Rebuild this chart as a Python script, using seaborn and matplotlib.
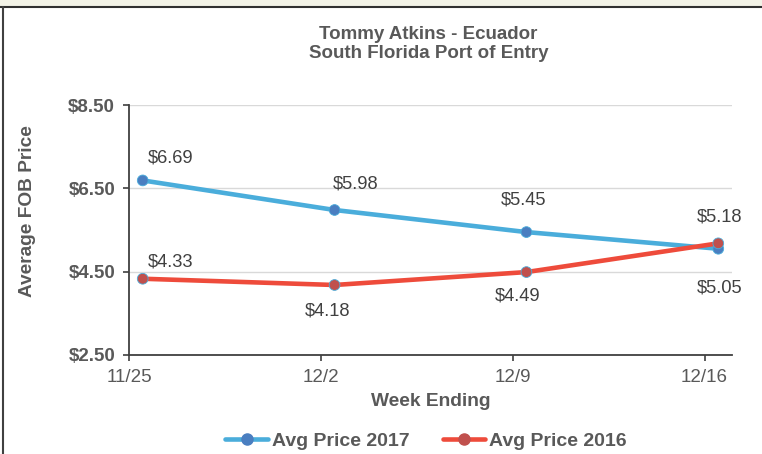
import pandas as pd
import seaborn as sns
import matplotlib.pyplot as plt
from matplotlib.lines import Line2D
from matplotlib.patches import Rectangle

# chart data
weeks = ["2017-11-25", "2017-12-02", "2017-12-09", "2017-12-16"]
week_labels = ["11/25", "12/2", "12/9", "12/16"]
price_2017 = [6.69, 5.98, 5.45, 5.05]
price_2016 = [4.33, 4.18, 4.49, 5.18]
series_names = ["Avg Price 2017", "Avg Price 2016"]
y_ticks = [2.5, 4.5, 6.5, 8.5]

line_colors = ["#4AADDB", "#EE4B3B"]
marker_colors = ["#4A7EC0", "#C0504D"]
text_grey = "#595959"

# label offsets in points (dx, dy) for each value
offsets_2017 = [(20, 16), (15, 19), (-2, 23), (1, -28)]
offsets_2016 = [(20, 12), (-5, -19), (-6, -17), (1, 19)]

dates = pd.to_datetime(weeks)
# Excel date axis puts points in the middle of the day
x_pos = dates + pd.Timedelta(hours=12)

df = pd.DataFrame({
    "date": list(x_pos) * 2,
    "price": price_2017 + price_2016,
    "series": [series_names[0]] * 4 + [series_names[1]] * 4,
})

sns.set_style("white")
plt.rcParams["font.family"] = ["Liberation Sans", "DejaVu Sans"]

fig = plt.figure(figsize=(7.62, 4.54), dpi=100)
ax = fig.add_axes([0.1693, 0.2181, 0.7913, 0.5506])

sns.lineplot(data=df, x="date", y="price", hue="series",
             palette=dict(zip(series_names, line_colors)),
             linewidth=3.3, legend=False, ax=ax, zorder=3)
sns.scatterplot(data=df, x="date", y="price", hue="series",
                palette=dict(zip(series_names, marker_colors)),
                s=60, edgecolor=line_colors[0], linewidth=0.6,
                legend=False, ax=ax, zorder=4)

# data labels
for vals, offs in [(price_2017, offsets_2017), (price_2016, offsets_2016)]:
    for x, v, (dx, dy) in zip(x_pos, vals, offs):
        ax.annotate(f"${v:.2f}", (x, v), xytext=(dx, dy),
                    textcoords="offset points", ha="center", va="center",
                    fontsize=13.2, color="#404040")

ax.set_ylim(2.5, 8.5)
ax.set_yticks(y_ticks)
ax.set_yticklabels([f"${t:.2f}" for t in y_ticks], fontweight="bold",
                   fontsize=13.5, color=text_grey)
ax.set_xlim(dates[0], dates[-1] + pd.Timedelta(days=1))
ax.set_xticks(dates)
ax.set_xticklabels(week_labels, fontsize=13.5, color=text_grey)

ax.grid(axis="y", color="#D9D9D9", linewidth=1)
ax.set_axisbelow(True)
for side in ["top", "right"]:
    ax.spines[side].set_visible(False)
for side in ["left", "bottom"]:
    ax.spines[side].set_color("#404040")
    ax.spines[side].set_linewidth(1.3)
ax.tick_params(axis="both", direction="out", length=4, width=1.2,
               color="#404040", left=True, bottom=True)
ax.tick_params(axis="y", pad=6)
ax.tick_params(axis="x", pad=6)

ax.set_xlabel("Week Ending", fontsize=13.8, fontweight="bold",
              color=text_grey, labelpad=5)
ax.set_ylabel("Average FOB Price", fontsize=13.8, fontweight="bold",
              color=text_grey)
ax.yaxis.set_label_coords(-0.155, 0.576)

fig.text(0.5625, 1 - 44 / 454, "Tommy Atkins - Ecuador\nSouth Florida Port of Entry",
         ha="center", va="center", fontsize=13.5, fontweight="bold",
         color=text_grey, linespacing=1.2)

handles = [Line2D([0], [0], color=lc, lw=3.3, marker="o", markersize=8,
                  markerfacecolor=mc, markeredgecolor=mc)
           for lc, mc in zip(line_colors, marker_colors)]
fig.legend(handles, series_names, loc="center",
           bbox_to_anchor=(426 / 762, 1 - 441 / 454), ncol=2, frameon=False,
           prop={"size": 14, "weight": "bold"}, labelcolor=text_grey,
           handlelength=2.2, handletextpad=0.2, columnspacing=1.7)

# frame pieces from the original screenshot
fig.add_artist(Rectangle((0, 1 - 6 / 454), 1, 6 / 454, transform=fig.transFigure,
                         facecolor="#F2F2E6", edgecolor="none"))
fig.add_artist(Line2D([0, 1], [1 - 7 / 454] * 2, transform=fig.transFigure,
                      color="#303030", lw=1.5))
fig.add_artist(Line2D([2.5 / 762] * 2, [0, 1 - 7 / 454], transform=fig.transFigure,
                      color="#404040", lw=1.5))

fig.savefig("out.png", dpi=100)
